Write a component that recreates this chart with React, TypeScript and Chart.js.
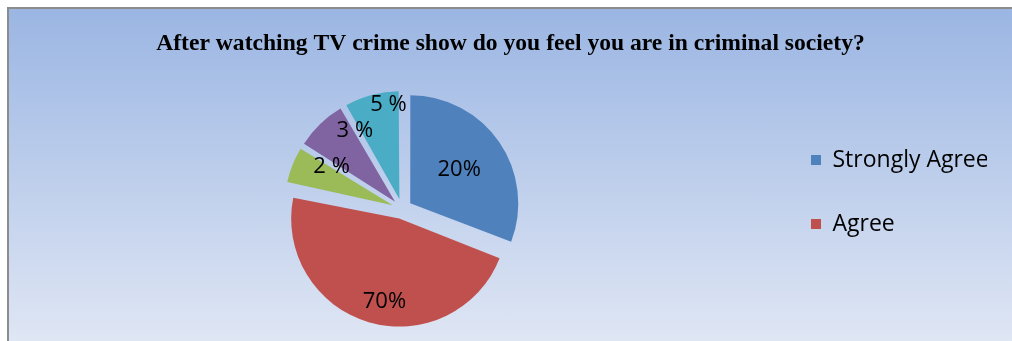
import React, { useEffect, useRef } from "react";
import { Chart, registerables } from "chart.js";

Chart.register(...registerables);

const TITLE = "After watching TV crime show do you feel you are in criminal society?";
const CATEGORIES = ["Strongly Agree", "Agree", "Neutral", "Disagree", "Strongly Disagree"];
// slice sizes as drawn in the picture (share of the circle)
const VALUES = [30.8, 47.5, 5.6, 7.8, 8.3];
// label texts printed on the slices
const LABEL_TEXT = ["20%", "70%", "2 %", "3 %", "5 %"];
const COLORS = ["#4F81BD", "#C0504D", "#9BBB59", "#8064A2", "#4BACC6"];
const LEGEND_SHOWN = ["Strongly Agree", "Agree"];

// label placement styling: radial fraction of radius, angular shift (deg) from bisector
const LABEL_DIST = [0.64, 0.876, 0.76, 0.85, 0.97];
const LABEL_SHIFT = [0.4, -5.7, 9, 13, 7.5];

const SLICE_OFFSET = 40; // Chart.js translates arcs by offset/4

export default function App() {
  const ref = useRef<HTMLCanvasElement>(null);

  useEffect(() => {
    if (!ref.current) return;

    // keep every exploded slice at the true radius (Chart.js enlarges some when offset)
    const radiusFix = {
      id: "radiusFix",
      afterDatasetUpdate(chart: any, args: any) {
        const meta = args.meta;
        const R = meta.controller.outerRadius;
        meta.data.forEach((arc: any) => {
          const circ = arc.circumference;
          const fix = 1 - Math.sin(Math.min(Math.PI, circ || 0));
          arc.outerRadius = R - (SLICE_OFFSET / 4) * fix;
        });
      },
    };

    const labelPlugin = {
      id: "sliceLabels",
      afterDatasetsDraw(chart: any) {
        const ctx = chart.ctx;
        const meta = chart.getDatasetMeta(0);
        const R = meta.controller.outerRadius;
        ctx.save();
        ctx.font = "22px 'Open Sans', sans-serif";
        ctx.fillStyle = "#000";
        ctx.textAlign = "center";
        ctx.textBaseline = "middle";
        meta.data.forEach((arc: any, i: number) => {
          const { x, y, startAngle, endAngle } = arc.getProps(
            ["x", "y", "startAngle", "endAngle"],
            true
          );
          const a = (startAngle + endAngle) / 2 + (LABEL_SHIFT[i] * Math.PI) / 180;
          const d = R * LABEL_DIST[i];
          ctx.fillText(LABEL_TEXT[i], x + Math.cos(a) * d, y + Math.sin(a) * d);
        });
        ctx.restore();
      },
    };

    const chart = new Chart(ref.current, {
      type: "pie",
      data: {
        labels: CATEGORIES,
        datasets: [
          {
            data: VALUES,
            backgroundColor: COLORS,
            borderWidth: 0,
            offset: SLICE_OFFSET,
            radius: 108,
            clip: false,
          } as any,
        ],
      },
      options: {
        responsive: false,
        animation: false,
        layout: { padding: { left: 25, right: 25, top: 0, bottom: 0 } },
        plugins: {
          title: {
            display: true,
            text: TITLE,
            color: "#000",
            font: {
              family: "'Liberation Serif', 'Times New Roman', serif",
              size: 23.6,
              weight: "bold",
              lineHeight: 1.2,
            },
            padding: { top: 21, bottom: 18.68 },
          },
          legend: {
            position: "right",
            align: "start",
            fullSize: false,
            maxWidth: 217,
            title: {
              display: true,
              text: " ",
              font: { size: 10, lineHeight: 1.2 },
              padding: { top: 18.5, bottom: 0 },
            },
            labels: {
              boxWidth: 10,
              boxHeight: 10,
              padding: 41,
              color: "#000",
              font: { family: "'Open Sans', sans-serif", size: 23 },
              filter: (item: any) => LEGEND_SHOWN.includes(item.text),
            },
          },
          tooltip: { enabled: false },
        },
      } as any,
      plugins: [radiusFix, labelPlugin],
    });
    return () => chart.destroy();
  }, []);

  return (
    <div
      style={{
        position: "absolute",
        left: 7,
        top: 7,
        width: 1005,
        height: 334,
        boxSizing: "border-box",
        borderTop: "2px solid #8c8c8c",
        borderLeft: "2px solid #8c8c8c",
        background: "linear-gradient(to bottom, #9bb6e3 0%, #dfe6f4 100%)",
      }}
    >
      <canvas ref={ref} width={1003} height={332} style={{ display: "block" }} />
    </div>
  );
}
